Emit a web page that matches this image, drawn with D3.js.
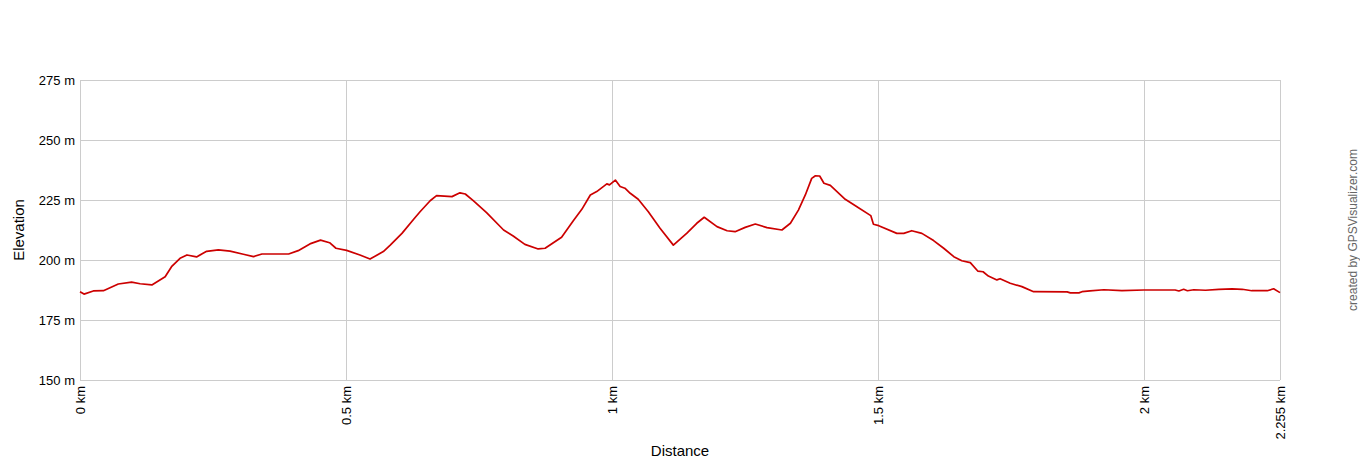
<!DOCTYPE html>
<html>
<head>
<meta charset="utf-8">
<script src="https://cdn.jsdelivr.net/npm/d3@7"></script>
<style>
  body { margin: 0; background: #fff; }
  svg { display: block; font-family: Arial, "Liberation Sans", sans-serif; }
</style>
</head>
<body>
<div id="chart"></div>
<script>
// distance along the track (km)
let distances = [
  0, 0.0075, 0.025, 0.044, 0.072, 0.097, 0.113, 0.135, 0.160, 0.172,
  0.188, 0.201, 0.219, 0.238, 0.260, 0.282, 0.307, 0.326, 0.342, 0.392,
  0.410, 0.432, 0.452, 0.469, 0.481, 0.501, 0.526, 0.545, 0.570, 0.583,
  0.605, 0.627, 0.639, 0.658, 0.670, 0.699, 0.714, 0.724, 0.739, 0.764,
  0.796, 0.814, 0.836, 0.861, 0.874, 0.905, 0.927, 0.943, 0.959, 0.971,
  0.990, 0.995, 1.006, 1.015, 1.024, 1.034, 1.049, 1.068, 1.090, 1.115,
  1.140, 1.159, 1.173, 1.197, 1.216, 1.231, 1.250, 1.269, 1.291, 1.319,
  1.335, 1.350, 1.363, 1.375, 1.382, 1.390, 1.398, 1.410, 1.438, 1.460,
  1.486, 1.491, 1.501, 1.535, 1.548, 1.563, 1.582, 1.604, 1.623, 1.642,
  1.657, 1.673, 1.687, 1.697, 1.707, 1.723, 1.729, 1.748, 1.770, 1.792,
  1.855, 1.861, 1.877, 1.883, 1.898, 1.924, 1.958, 1.999, 2.058, 2.065,
  2.074, 2.081, 2.093, 2.115, 2.140, 2.165, 2.184, 2.202, 2.231, 2.243,
  2.255
]
// elevation (m)
let elevations = [
  186.8, 185.8, 187.1, 187.2, 190.0, 190.8, 190.1, 189.6, 193.0, 197.2,
  200.7, 202.1, 201.3, 203.6, 204.2, 203.7, 202.4, 201.4, 202.5, 202.5,
  203.9, 206.7, 208.3, 207.2, 204.9, 204.0, 202.1, 200.4, 203.5, 206.2,
  211.1, 217.0, 220.1, 224.7, 226.8, 226.4, 228.0, 227.5, 224.7, 219.7,
  212.5, 210.0, 206.5, 204.6, 204.9, 209.5, 216.4, 221.1, 227.1, 228.5,
  231.7, 231.3, 233.3, 230.6, 229.9, 227.8, 225.3, 220.1, 213.2, 206.2,
  211.1, 215.3, 217.8, 213.9, 212.2, 211.8, 213.6, 215.0, 213.5, 212.5,
  215.3, 220.8, 227.1, 234.0, 235.1, 235.0, 232.0, 231.1, 225.3, 222.2,
  218.5, 214.9, 214.3, 211.1, 211.1, 212.2, 211.1, 208.1, 204.9, 201.4,
  199.7, 198.9, 195.4, 195.1, 193.3, 191.7, 192.2, 190.3, 188.9, 186.8,
  186.7, 186.3, 186.3, 186.8, 187.1, 187.6, 187.2, 187.5, 187.5, 187.1,
  187.8, 187.2, 187.6, 187.4, 187.8, 188.0, 187.8, 187.2, 187.2, 188.0,
  186.4
]
let yTicks = [150, 175, 200, 225, 250, 275]
let xTicks = [0, 0.5, 1, 1.5, 2, 2.255]
let xTickLabels = ['0 km', '0.5 km', '1 km', '1.5 km', '2 km', '2.255 km']

let gridColor = '#ccc'
let lineColor = '#cc0000'

let width = 1360
let height = 460
let margin = { top: 80, right: 80, bottom: 80, left: 80 }

let svg = d3.select('#chart').append('svg')
  .attr('width', width)
  .attr('height', height)

let x = d3.scaleLinear()
  .domain([0, 2.255])
  .range([margin.left, width - margin.right])
let y = d3.scaleLinear()
  .domain([150, 275])
  .range([height - margin.bottom, margin.top])

// grid
svg.append('g')
  .selectAll('line')
  .data(yTicks)
  .enter()
  .append('line')
  .attr('x1', margin.left)
  .attr('x2', width - margin.right)
  .attr('y1', d => Math.round(y(d)) + 0.5)
  .attr('y2', d => Math.round(y(d)) + 0.5)
  .attr('stroke', gridColor)
  .attr('stroke-width', 1)

svg.append('g')
  .selectAll('line')
  .data(xTicks)
  .enter()
  .append('line')
  .attr('x1', d => Math.round(x(d)) + 0.5)
  .attr('x2', d => Math.round(x(d)) + 0.5)
  .attr('y1', margin.top)
  .attr('y2', height - margin.bottom)
  .attr('stroke', gridColor)
  .attr('stroke-width', 1)

// y tick labels
svg.append('g')
  .selectAll('text')
  .data(yTicks)
  .enter()
  .append('text')
  .attr('x', margin.left - 5)
  .attr('y', d => y(d))
  .attr('dy', '0.35em')
  .attr('text-anchor', 'end')
  .attr('font-size', 13)
  .attr('fill', '#000')
  .text(d => d + ' m')

// x tick labels, rotated
svg.append('g')
  .selectAll('text')
  .data(xTicks)
  .enter()
  .append('text')
  .attr('transform', d => 'translate(' + x(d) + ',' + (height - margin.bottom + 6) + ') rotate(-90)')
  .attr('dy', '0.35em')
  .attr('text-anchor', 'end')
  .attr('font-size', 13)
  .attr('fill', '#000')
  .text((d, i) => xTickLabels[i])

// axis titles
svg.append('text')
  .attr('transform', 'translate(24,' + (margin.top + 150) + ') rotate(-90)')
  .attr('text-anchor', 'middle')
  .attr('font-size', 15)
  .text('Elevation')

svg.append('text')
  .attr('x', 680)
  .attr('y', 456)
  .attr('text-anchor', 'middle')
  .attr('font-size', 15)
  .text('Distance')

svg.append('text')
  .attr('transform', 'translate(1357,230) rotate(-90)')
  .attr('text-anchor', 'middle')
  .attr('font-size', 12)
  .attr('fill', '#666')
  .text('created by GPSVisualizer.com')

// profile line
let points = distances.map((d, i) => [d, elevations[i]])
let line = d3.line()
  .x(d => x(d[0]))
  .y(d => y(d[1]))

svg.append('path')
  .datum(points)
  .attr('d', line)
  .attr('fill', 'none')
  .attr('stroke', lineColor)
  .attr('stroke-width', 1.7)
  .attr('stroke-linejoin', 'round')
</script>
</body>
</html>
